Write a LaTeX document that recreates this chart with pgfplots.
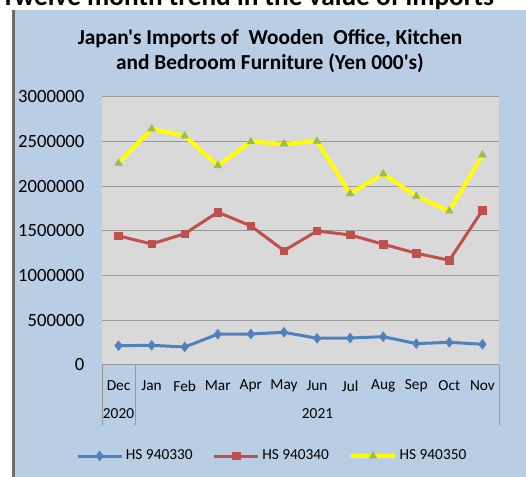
\documentclass[border=0pt]{standalone}
\usepackage{pgfplots}
\pgfplotsset{compat=1.18}
\usepackage{fontspec}
\setmainfont{Carlito}[Ligatures=TeXOff]
\definecolor{bgblue}{HTML}{B9CDE5}
\definecolor{plotgray}{HTML}{D9D9D9}
\definecolor{gridgray}{HTML}{989898}
\definecolor{sblue}{HTML}{4F81BD}
\definecolor{sred}{HTML}{C0504D}
\definecolor{syellow}{HTML}{FFFF00}
\definecolor{sgreen}{HTML}{9BBB59}
\begin{document}
\begin{tikzpicture}
\begin{scope}[x=0.75pt,y=-0.75pt,yshift=357.75pt]
\fill[white] (0,0) rectangle (526,477);
\fill[bgblue] (12,10) rectangle (526,477);
\fill[gray!85!black] (12,10) rectangle (14.5,477);
\node[font=\bfseries\fontsize{20.5}{24}\selectfont, anchor=base west, inner sep=0pt] at (1,6) {Twelve month trend in the value of imports};
\node[font=\bfseries\fontsize{16}{19}\selectfont, anchor=base, inner sep=0pt] at (270,45) {Japan's Imports of\ \ Wooden\ \ Office, Kitchen};
\node[font=\bfseries\fontsize{16}{19}\selectfont, anchor=base, inner sep=0pt] at (270,70) {and Bedroom Furniture (Yen 000's)};
\draw[gridgray, line width=0.75pt] (102,365) -- (102,425);
\draw[gridgray, line width=0.75pt] (135.1,365) -- (135.1,425);
\draw[gridgray, line width=0.75pt] (499,365) -- (499,425);
\node[font=\fontsize{11.5}{13}\selectfont, anchor=center] at (118.5,414) {2020};
\node[font=\fontsize{11.5}{13}\selectfont, anchor=center] at (317.5,414) {2021};
\end{scope}
\begin{axis}[
  at={(76.5pt,84pt)}, anchor=south west,
  width=297.75pt, height=201pt, scale only axis,
  xmin=-0.5, xmax=11.5, ymin=0, ymax=3000000,
  scaled y ticks=false,
  axis background/.style={fill=plotgray},
  axis line style={draw=none},
  ymajorgrids, grid style={gridgray, line width=0.75pt},
  major tick length=0pt,
  xtick={0,...,11},
  xticklabels={Dec,Jan,Feb,Mar,Apr,May,Jun,Jul,Aug,Sep,Oct,Nov},
  xticklabel style={font=\fontsize{11.5}{13}\selectfont, anchor=center, inner sep=0pt, yshift=-15.75pt},
  ytick={0,500000,1000000,1500000,2000000,2500000,3000000},
  yticklabels={0,500000,1000000,1500000,2000000,2500000,3000000},
  yticklabel style={font=\fontsize{14}{16}\selectfont, anchor=east, inner sep=0pt, xshift=-13pt},
  clip=false,
  legend columns=3,
  legend style={at={(-0.0655,-0.3396)}, anchor=west, draw=none, fill=none, inner sep=0pt,
    font=\fontsize{11.5}{13}\selectfont,
    /tikz/every even column/.append style={column sep=13pt}},
  legend image code/.code={\draw[mark repeat=2,mark phase=2,#1] plot coordinates {(0pt,0pt) (16.5pt,0pt) (33pt,0pt)};},
]
\addplot[sblue, line width=2.25pt, mark=diamond*, mark size=3.6pt, mark options={solid, line width=0.5pt}] coordinates {
(0,216000) (1,220000) (2,202000) (3,344000) (4,347000) (5,366000) (6,299000) (7,302000) (8,317000) (9,239000) (10,254000) (11,232000)};
\addlegendentry{HS 940330}
\addplot[sred, line width=2.25pt, mark=square*, mark size=2.8pt, mark options={solid, line width=0.5pt}] coordinates {
(0,1445000) (1,1355000) (2,1470000) (3,1710000) (4,1557000) (5,1280000) (6,1500000) (7,1456000) (8,1352000) (9,1251000) (10,1172000) (11,1732000)};
\addlegendentry{HS 940340}
\addplot[syellow, line width=3pt, mark=triangle*, mark size=3.2pt, mark options={solid, sgreen, line width=0.5pt}] coordinates {
(0,2258000) (1,2643000) (2,2564000) (3,2232000) (4,2500000) (5,2475000) (6,2505000) (7,1918000) (8,2139000) (9,1889000) (10,1724000) (11,2352000)};
\addlegendentry{HS 940350}
\end{axis}
\pgfresetboundingbox
\path[use as bounding box] (0,0) rectangle (394.5pt,357.75pt);
\end{tikzpicture}
\end{document}
